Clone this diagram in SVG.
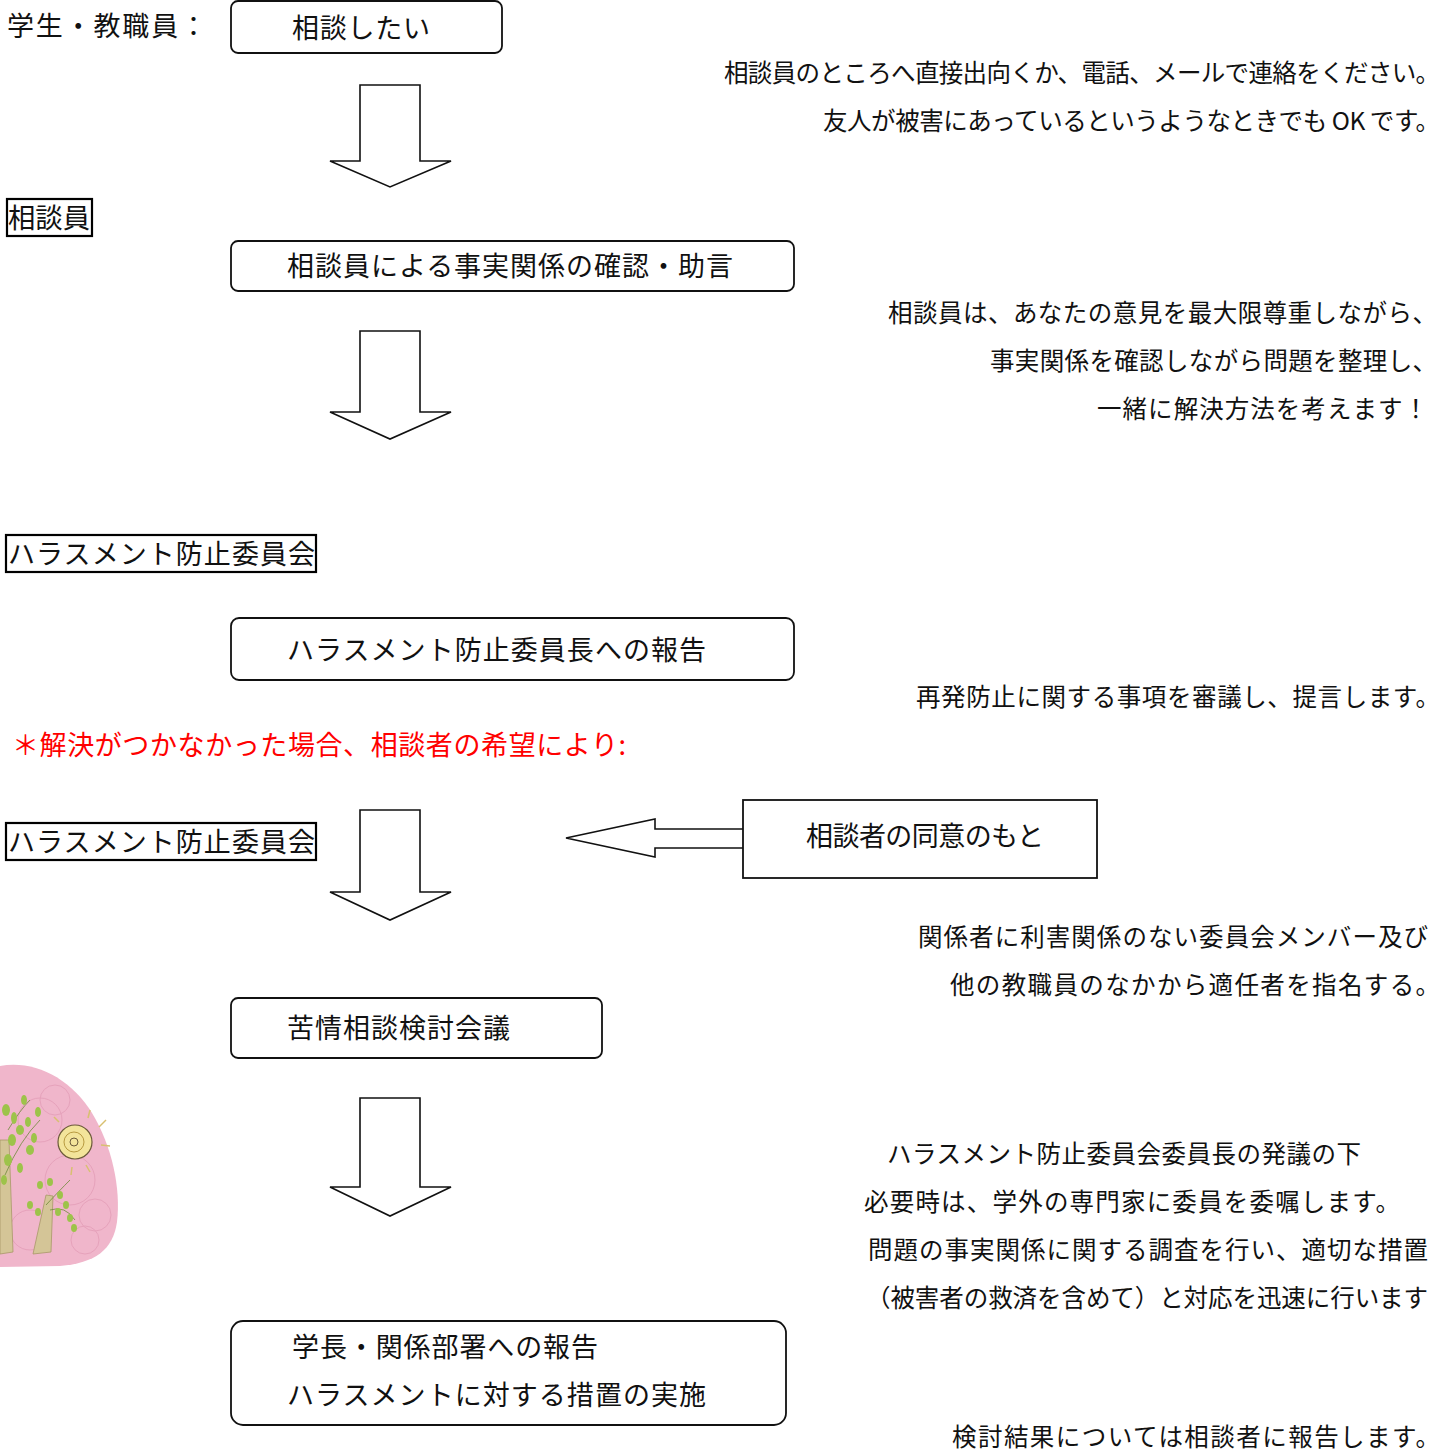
<svg xmlns="http://www.w3.org/2000/svg" width="1443" height="1454" viewBox="0 0 1443 1454">
  <style>
    text { font-family: "Noto Sans CJK JP", "Noto Sans", sans-serif; fill: #111; }
    .box { fill: #fff; stroke: #111; stroke-width: 1.8; }
    .lbl { fill: #fff; stroke: #000; stroke-width: 2.2; }
    .arrow { fill: #fff; stroke: #111; stroke-width: 1.6; stroke-linejoin: miter; }
    .t27 { font-size: 27px; }
    .note { font-size: 24.5px; }
    .red { fill: #ff0000; font-size: 27px; }
  </style>

  <rect width="1443" height="1454" fill="#fff"/>

  <!-- decorative illustration, lower left -->
  <g id="illustration">
    <path d="M0,1066 C35,1060 70,1078 92,1113 C112,1146 121,1188 117,1222 C113,1250 95,1263 60,1266 L0,1267 Z" fill="#f0b6cb"/>
    <g fill="none" stroke="#e6a2bb" stroke-width="1">
      <circle cx="40" cy="1120" r="22"/>
      <circle cx="70" cy="1180" r="25"/>
      <circle cx="95" cy="1215" r="16"/>
      <circle cx="30" cy="1230" r="20"/>
      <circle cx="55" cy="1100" r="15"/>
      <circle cx="85" cy="1240" r="14"/>
    </g>
    <!-- sun -->
    <circle cx="75" cy="1142" r="17" fill="#f3e49a" stroke="#6b5a3a" stroke-width="1.2"/>
    <circle cx="74" cy="1142" r="10" fill="none" stroke="#b89a40" stroke-width="1"/>
    <circle cx="74" cy="1142" r="4" fill="none" stroke="#6b5a3a" stroke-width="1"/>
    <g stroke="#d8c070" stroke-width="1.5">
      <line x1="90" y1="1110" x2="88" y2="1118"/>
      <line x1="106" y1="1120" x2="99" y2="1127"/>
      <line x1="110" y1="1146" x2="101" y2="1145"/>
      <line x1="54" y1="1117" x2="59" y2="1122"/>
      <line x1="71" y1="1175" x2="72" y2="1167"/>
      <line x1="90" y1="1172" x2="86" y2="1165"/>
    </g>
    <!-- trees -->
    <path d="M0,1140 L9,1140 L13,1252 L0,1254 Z" fill="#d4c597" stroke="#a89868" stroke-width="0.8"/>
    <path d="M33,1254 L46,1195 L53,1196 L51,1252 Z" fill="#d4c597" stroke="#a89868" stroke-width="0.8"/>
    <g stroke="#6f8a3a" stroke-width="0.8" fill="none">
      <path d="M5,1175 Q20,1140 40,1120"/>
      <path d="M8,1130 Q20,1110 30,1100"/>
      <path d="M46,1205 Q60,1190 70,1180"/>
      <path d="M50,1210 Q65,1205 75,1220"/>
    </g>
    <g fill="#9dc34a">
      <ellipse cx="6" cy="1110" rx="4" ry="6"/>
      <ellipse cx="14" cy="1118" rx="3" ry="6"/>
      <ellipse cx="20" cy="1130" rx="4" ry="5"/>
      <ellipse cx="28" cy="1122" rx="3" ry="5"/>
      <ellipse cx="12" cy="1140" rx="4" ry="6"/>
      <ellipse cx="30" cy="1150" rx="4" ry="5"/>
      <ellipse cx="8" cy="1160" rx="4" ry="6"/>
      <ellipse cx="20" cy="1168" rx="3" ry="5"/>
      <ellipse cx="34" cy="1138" rx="3" ry="5"/>
      <ellipse cx="4" cy="1180" rx="3" ry="5"/>
      <ellipse cx="38" cy="1112" rx="3" ry="5"/>
      <ellipse cx="24" cy="1100" rx="3" ry="5"/>
      <ellipse cx="40" cy="1185" rx="3" ry="4"/>
      <ellipse cx="50" cy="1182" rx="3" ry="4"/>
      <ellipse cx="60" cy="1195" rx="3" ry="4"/>
      <ellipse cx="66" cy="1205" rx="3" ry="4"/>
      <ellipse cx="58" cy="1212" rx="3" ry="4"/>
      <ellipse cx="70" cy="1218" rx="3" ry="4"/>
      <ellipse cx="30" cy="1205" rx="3" ry="4"/>
      <ellipse cx="38" cy="1212" rx="3" ry="4"/>
      <ellipse cx="74" cy="1228" rx="3" ry="4"/>
    </g>
  </g>

  <!-- section labels -->
  <g id="label-requester">
    <text x="7" y="36" class="t27" textLength="200" lengthAdjust="spacing">学生・教職員：</text>
  </g>
  <g id="label-counselor">
    <rect x="7" y="199" width="85" height="37" class="lbl"/>
    <text x="8" y="228" class="t27" textLength="82" lengthAdjust="spacingAndGlyphs">相談員</text>
  </g>
  <g id="label-committee-1">
    <rect x="6" y="535" width="310" height="37" class="lbl"/>
    <text x="8" y="564" class="t27" textLength="307" lengthAdjust="spacing">ハラスメント防止委員会</text>
  </g>
  <g id="label-committee-2">
    <rect x="6" y="823" width="310" height="37" class="lbl"/>
    <text x="8" y="852" class="t27" textLength="307" lengthAdjust="spacing">ハラスメント防止委員会</text>
  </g>

  <!-- connectors -->
  <g id="connectors">
    <path class="arrow" d="M360,85 L420,85 L420,161 L451,161 L390,187 L330,161 L360,161 Z"/>
    <path class="arrow" d="M360,331 L420,331 L420,412 L451,412 L390,439 L330,412 L360,412 Z"/>
    <path class="arrow" d="M360,810 L420,810 L420,892 L451,892 L390,920 L330,892 L360,892 Z"/>
    <path class="arrow" d="M360,1098 L420,1098 L420,1187 L451,1187 L390,1216 L330,1187 L360,1187 Z"/>
    <path class="arrow" d="M743,829 L655,829 L655,819 L566,838 L655,857 L655,848 L743,848"/>
  </g>

  <!-- flow nodes -->
  <g id="node-consult">
    <rect x="231" y="1" width="271" height="52" rx="7" class="box"/>
    <text x="292" y="38" class="t27" textLength="138" lengthAdjust="spacing">相談したい</text>
  </g>
  <g id="node-confirm">
    <rect x="231" y="241" width="563" height="50" rx="7" class="box"/>
    <text x="287" y="276" class="t27" textLength="446" lengthAdjust="spacing">相談員による事実関係の確認・助言</text>
  </g>
  <g id="node-report-chair">
    <rect x="231" y="618" width="563" height="62" rx="8" class="box"/>
    <text x="287" y="660" class="t27" textLength="419" lengthAdjust="spacing">ハラスメント防止委員長への報告</text>
  </g>
  <g id="node-consent">
    <rect x="743" y="800" width="354" height="78" class="box"/>
    <text x="806" y="846" class="t27" textLength="238" lengthAdjust="spacing">相談者の同意のもと</text>
  </g>
  <g id="node-review">
    <rect x="231" y="998" width="371" height="60" rx="7" class="box"/>
    <text x="287" y="1038" class="t27" textLength="223" lengthAdjust="spacing">苦情相談検討会議</text>
  </g>
  <g id="node-action">
    <rect x="231" y="1321" width="555" height="104" rx="12" class="box"/>
    <text x="292" y="1357" class="t27" textLength="306" lengthAdjust="spacing">学長・関係部署への報告</text>
    <text x="287" y="1405" class="t27" textLength="419" lengthAdjust="spacing">ハラスメントに対する措置の実施</text>
  </g>

  <!-- explanatory notes -->
  <g id="notes">
    <text x="724" y="82" class="note" textLength="716" lengthAdjust="spacing">相談員のところへ直接出向くか、電話、メールで連絡をください。</text>
    <text x="823" y="130" class="note" textLength="617" lengthAdjust="spacing">友人が被害にあっているというようなときでも OK です。</text>
    <text x="888" y="322" class="note" textLength="549" lengthAdjust="spacing">相談員は、あなたの意見を最大限尊重しながら、</text>
    <text x="990" y="370" class="note" textLength="447" lengthAdjust="spacing">事実関係を確認しながら問題を整理し、</text>
    <text x="1097" y="418" class="note" textLength="331" lengthAdjust="spacing">一緒に解決方法を考えます！</text>
    <text x="916" y="706" class="note" textLength="524" lengthAdjust="spacing">再発防止に関する事項を審議し、提言します。</text>
    <text x="12" y="755" class="red" textLength="614" lengthAdjust="spacing">＊解決がつかなかった場合、相談者の希望により:</text>
    <text x="918" y="946" class="note" textLength="510" lengthAdjust="spacing">関係者に利害関係のない委員会メンバー及び</text>
    <text x="950" y="994" class="note" textLength="490" lengthAdjust="spacing">他の教職員のなかから適任者を指名する。</text>
    <text x="887" y="1163" class="note" textLength="474" lengthAdjust="spacing">ハラスメント防止委員会委員長の発議の下</text>
    <text x="864" y="1211" class="note" textLength="536" lengthAdjust="spacing">必要時は、学外の専門家に委員を委嘱します。</text>
    <text x="868" y="1259" class="note" textLength="560" lengthAdjust="spacing">問題の事実関係に関する調査を行い、適切な措置</text>
    <text x="866" y="1307" class="note" textLength="562" lengthAdjust="spacing">（被害者の救済を含めて）と対応を迅速に行います</text>
    <text x="952" y="1446" class="note" textLength="488" lengthAdjust="spacing">検討結果については相談者に報告します。</text>
  </g>
</svg>
